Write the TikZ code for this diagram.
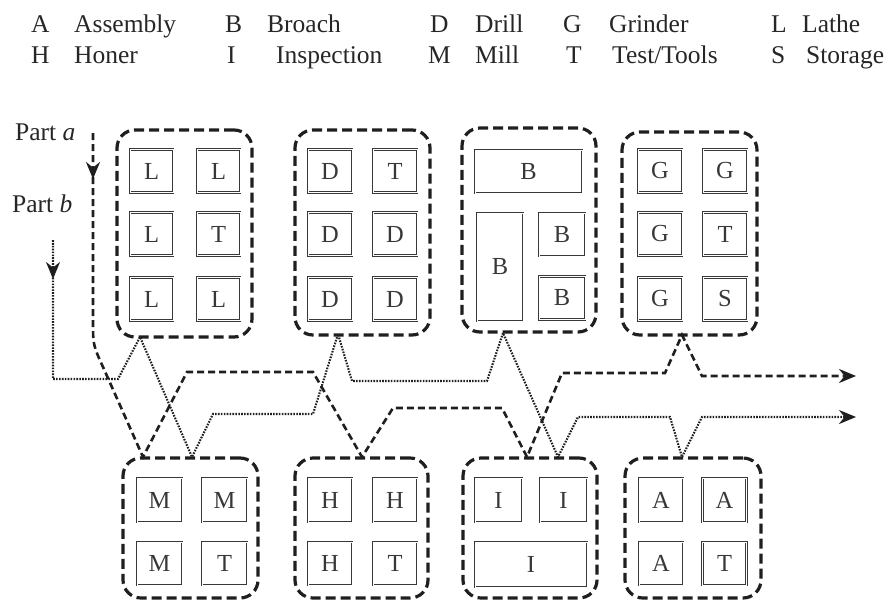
\documentclass[tikz,border=0pt]{standalone}
\usepackage{fontspec}
\setmainfont{Liberation Serif}
\usetikzlibrary{arrows.meta}
\begin{document}
\begin{tikzpicture}[x=1pt,y=-1pt,
  cellbox/.style={draw=black!88, line width=3.2pt, dash pattern=on 10pt off 5pt, rounded corners=18pt, inner sep=0pt},
  unit/.style={draw=black!78, line width=1pt, double, double distance=0.7pt, inner sep=0pt, text=black!78, font=\fontsize{24.5}{28}\selectfont},
  legend/.style={anchor=base west, inner sep=0pt, text=black!85, font=\fontsize{25.5}{30}\selectfont},
  patha/.style={draw=black!88, line width=2.6pt, dash pattern=on 7pt off 4pt},
  pathb/.style={draw=black!88, line width=2.1pt, dash pattern=on 1.6pt off 1.3pt},
  tip/.style={-{Stealth[length=17pt,width=14pt]}}
]
\useasboundingbox (0,0) rectangle (888,600);

% legend
\node[legend] (lA)  at (31,32)  {A};
\node[legend] (lAt) at (74,32)  {Assembly};
\node[legend] (lB)  at (225,32) {B};
\node[legend] (lBt) at (267,32) {Broach};
\node[legend] (lD)  at (430,32) {D};
\node[legend] (lDt) at (475,32) {Drill};
\node[legend] (lG)  at (563,32) {G};
\node[legend] (lGt) at (609,32) {Grinder};
\node[legend] (lL)  at (771,32) {L};
\node[legend] (lLt) at (802,32) {Lathe};
\node[legend] (lH)  at (31,63)  {H};
\node[legend] (lHt) at (74,63)  {Honer};
\node[legend] (lI)  at (227,63) {I};
\node[legend] (lIt) at (276,63) {Inspection};
\node[legend] (lM)  at (428,63) {M};
\node[legend] (lMt) at (475,63) {Mill};
\node[legend] (lT)  at (566,63) {T};
\node[legend] (lTt) at (612,63) {Test/Tools};
\node[legend] (lS)  at (771,63) {S};
\node[legend] (lSt) at (806,63) {Storage};

% part labels
\node[legend] (pa) at (15,140) {Part \textit{a}};
\node[legend] (pb) at (12,212) {Part \textit{b}};

% top cells
\node[cellbox, minimum width=135pt, minimum height=207pt] (cL) at (184.5,233.5) {};
\node[cellbox, minimum width=135pt, minimum height=205pt] (cD) at (362.5,232.5) {};
\node[cellbox, minimum width=134pt, minimum height=204pt] (cB) at (529,230) {};
\node[cellbox, minimum width=135pt, minimum height=203pt] (cG) at (689.5,233.5) {};

% L cell
\node[unit, minimum width=43pt, minimum height=43pt] (L1) at (151.5,171) {L};
\node[unit, minimum width=43pt, minimum height=43pt] (L2) at (218.5,171) {L};
\node[unit, minimum width=43pt, minimum height=43pt] (L3) at (151.5,234) {L};
\node[unit, minimum width=43pt, minimum height=43pt] (L4) at (218.5,234) {T};
\node[unit, minimum width=43pt, minimum height=43pt] (L5) at (151.5,299) {L};
\node[unit, minimum width=43pt, minimum height=43pt] (L6) at (218.5,299) {L};
% D cell
\node[unit, minimum width=44pt, minimum height=43pt] (D1) at (330,171) {D};
\node[unit, minimum width=44pt, minimum height=43pt] (D2) at (395,171) {T};
\node[unit, minimum width=44pt, minimum height=43pt] (D3) at (330,234) {D};
\node[unit, minimum width=44pt, minimum height=43pt] (D4) at (395,234) {D};
\node[unit, minimum width=44pt, minimum height=43pt] (D5) at (330,299) {D};
\node[unit, minimum width=44pt, minimum height=43pt] (D6) at (395,299) {D};
% B cell
\node[unit, minimum width=107pt, minimum height=43pt] (B1) at (528.5,171.5) {B};
\node[unit, minimum width=46pt, minimum height=108pt] (B2) at (500,267) {B};
\node[unit, minimum width=46pt, minimum height=43pt] (B3) at (562,234.5) {B};
\node[unit, minimum width=46pt, minimum height=43pt] (B4) at (562,298) {B};
% G cell
\node[unit, minimum width=44pt, minimum height=43pt] (G1) at (660,171) {G};
\node[unit, minimum width=44pt, minimum height=43pt] (G2) at (725,171) {G};
\node[unit, minimum width=44pt, minimum height=43pt] (G3) at (660,234) {G};
\node[unit, minimum width=44pt, minimum height=43pt] (G4) at (725,234) {T};
\node[unit, minimum width=44pt, minimum height=43pt] (G5) at (660,299) {G};
\node[unit, minimum width=44pt, minimum height=43pt] (G6) at (725,299) {S};

% bottom cells
\node[cellbox, minimum width=135pt, minimum height=140pt] (cM) at (190.5,528) {};
\node[cellbox, minimum width=133pt, minimum height=140pt] (cH) at (361.5,528) {};
\node[cellbox, minimum width=134pt, minimum height=140pt] (cI) at (530,528) {};
\node[cellbox, minimum width=136pt, minimum height=140pt] (cA) at (693,528) {};

\node[unit, minimum width=45pt, minimum height=44pt] (M1) at (159.5,500) {M};
\node[unit, minimum width=45pt, minimum height=44pt] (M2) at (224.5,500) {M};
\node[unit, minimum width=45pt, minimum height=43pt] (M3) at (159.5,563.5) {M};
\node[unit, minimum width=45pt, minimum height=43pt] (M4) at (224.5,563.5) {T};

\node[unit, minimum width=44pt, minimum height=44pt] (H1) at (330,500) {H};
\node[unit, minimum width=44pt, minimum height=44pt] (H2) at (395,500) {H};
\node[unit, minimum width=44pt, minimum height=43pt] (H3) at (330,563.5) {H};
\node[unit, minimum width=44pt, minimum height=43pt] (H4) at (395,563.5) {T};

\node[unit, minimum width=47pt, minimum height=44pt] (I1) at (498.5,500) {I};
\node[unit, minimum width=47pt, minimum height=44pt] (I2) at (563.5,500) {I};
\node[unit, minimum width=112pt, minimum height=45pt] (I3) at (531,564.5) {I};

\node[unit, minimum width=44pt, minimum height=44pt] (A1) at (661,500) {A};
\node[unit, minimum width=44pt, minimum height=44pt] (A2) at (724.5,500) {A};
\node[unit, minimum width=44pt, minimum height=43pt] (A3) at (661,563.5) {A};
\node[unit, minimum width=44pt, minimum height=43pt] (A4) at (724.5,563.5) {T};

% flow endpoints
\coordinate (sa) at (93,133);
\coordinate (ma) at (93,179);
\coordinate (ea) at (856,376);
\coordinate (sb) at (53,240);
\coordinate (mb) at (53,279);
\coordinate (eb) at (856,417);

% Part a flow (dashed)
\draw[patha, tip] (sa) -- (ma);
\draw[patha, tip] (sa) -- (93,320) .. controls (93,345) .. (103,367) -- (143,457)
  -- (187,372) -- (313,372) -- (362,457) -- (393,408) -- (502,408) -- (527,457)
  -- (562,373) -- (665,373) -- (682,335) -- (702,376) -- (ea);

% Part b flow (dotted)
\draw[pathb, tip] (sb) -- (mb);
\draw[pathb, tip] (sb) -- (53,379) -- (118,379) -- (140,337) -- (192,457)
  -- (213,414) -- (313,414) -- (338,334) -- (352,381) -- (487,381) -- (503,333)
  -- (558,457) -- (578,417) -- (670,417) -- (682,457) -- (702,417) -- (eb);
\end{tikzpicture}
\end{document}
